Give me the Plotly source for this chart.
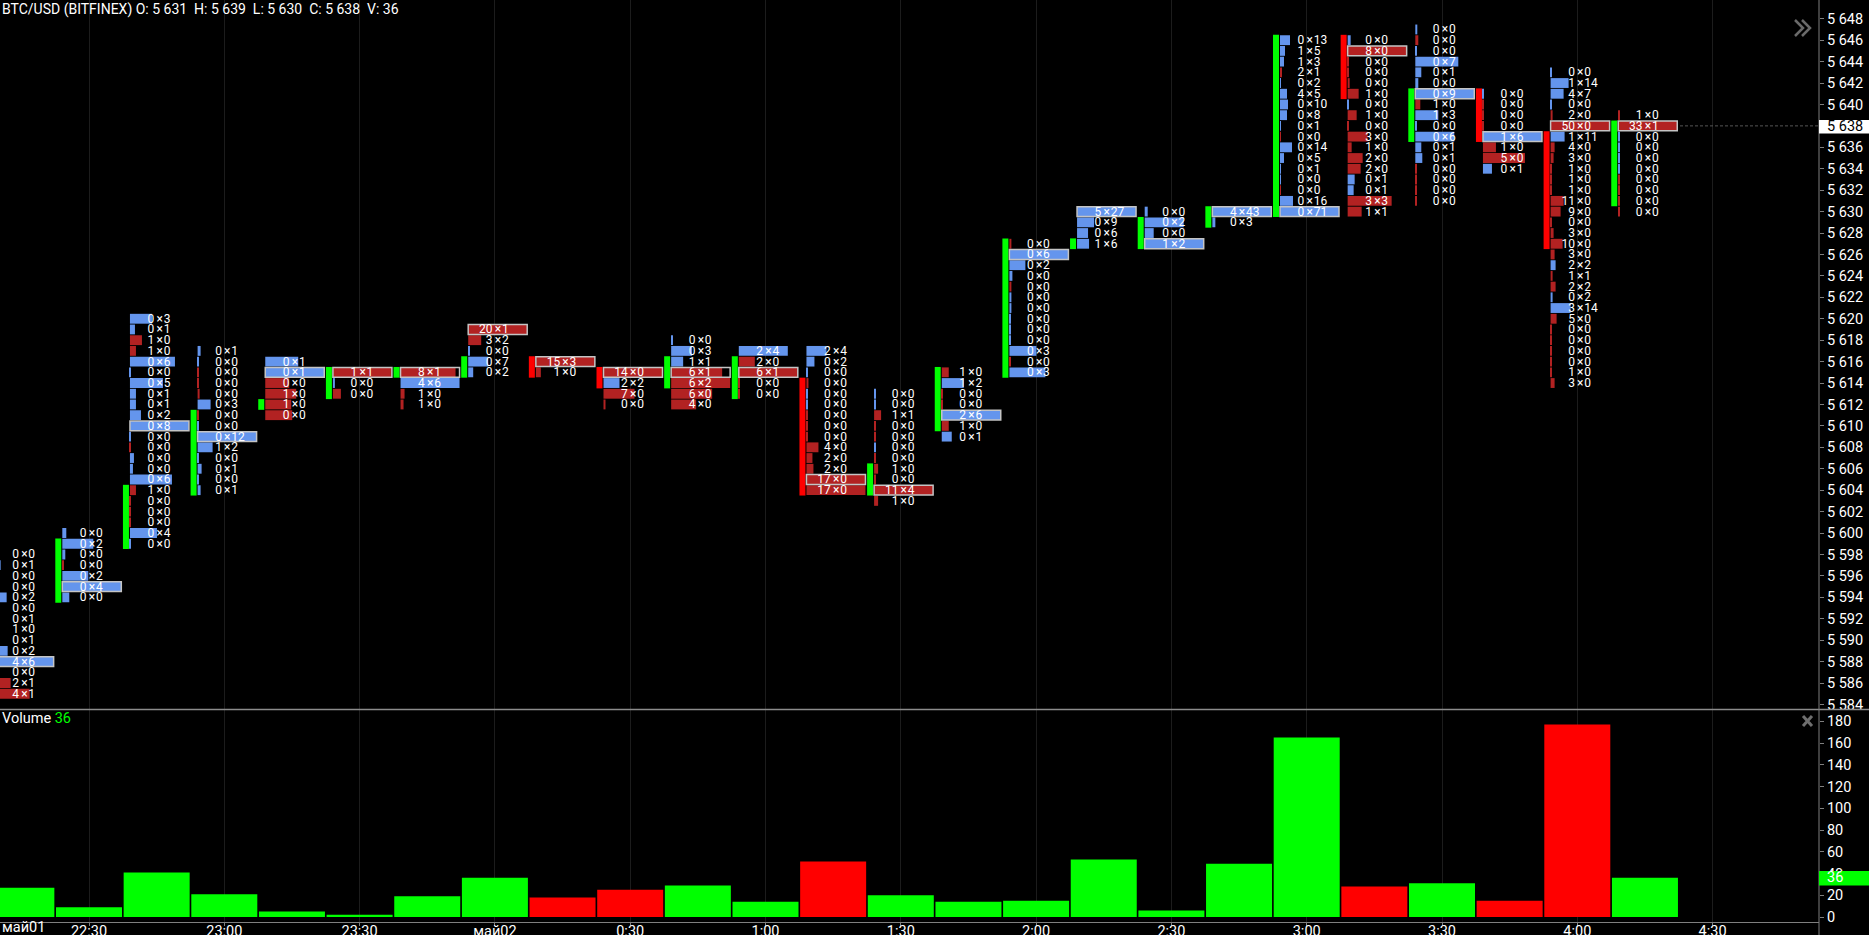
import plotly.graph_objects as go

# footprint bars, 15 min, top price of each column then rows going down
BAR_TIMES = ["22:15", "22:30", "22:45", "23:00", "23:15", "23:30", "23:45", "0:00", "0:15",
             "0:30", "0:45", "1:00", "1:15", "1:30", "1:45", "2:00", "2:15", "2:30", "2:45",
             "3:00", "3:15", "3:30", "3:45", "4:00", "4:15"]
OPENS = [5585, 5594, 5599, 5604, 5612, 5613, 5615, 5615, 5616, 5615, 5614, 5613, 5614, 5604,
         5610, 5615, 5627, 5627, 5629, 5630, 5646, 5637, 5641, 5637, 5631]
CLOSES = [5594, 5599, 5604, 5611, 5612, 5615, 5615, 5616, 5615, 5614, 5616, 5616, 5604, 5606,
          5615, 5627, 5627, 5629, 5630, 5646, 5641, 5641, 5637, 5627, 5638]
VOLUMES = [27, 9, 41, 21, 5, 2, 19, 36, 18, 25, 29, 14, 51, 20, 14, 15, 53, 6, 49, 165, 28, 31,
           15, 177, 36]
TOP_PRICES = [5598, 5600, 5620, 5617, 5616, 5615, 5615, 5619, 5616, 5615, 5618, 5617, 5617, 5613,
              5615, 5627, 5630, 5630, 5630, 5646, 5646, 5647, 5641, 5643, 5639]
POC_PRICES = [5588, 5595, 5610, 5609, 5615, 5615, 5615, 5619, 5616, 5615, 5615, 5615, 5605, 5604,
              5611, 5626, 5630, 5627, 5630, 5630, 5645, 5641, 5637, 5638, 5638]
BIDS = [
    [0, 0, 0, 0, 0, 0, 0, 1, 0, 0, 4, 0, 2, 4],
    [0, 0, 0, 0, 0, 0, 0],
    [0, 0, 1, 1, 0, 0, 0, 0, 0, 0, 0, 0, 0, 0, 0, 0, 1, 0, 0, 0, 0, 0],
    [0, 0, 0, 0, 0, 0, 0, 0, 0, 1, 0, 0, 0, 0],
    [0, 0, 0, 1, 1, 0],
    [1, 0, 0],
    [8, 4, 1, 1],
    [20, 3, 0, 0, 0],
    [15, 1],
    [14, 2, 7, 0],
    [0, 0, 1, 6, 6, 6, 4],
    [2, 2, 6, 0, 0],
    [2, 0, 0, 0, 0, 0, 0, 0, 0, 4, 2, 2, 17, 17],
    [0, 0, 1, 0, 0, 0, 0, 1, 0, 11, 1],
    [1, 1, 0, 0, 2, 1, 0],
    [0, 0, 0, 0, 0, 0, 0, 0, 0, 0, 0, 0, 0],
    [5, 0, 0, 1],
    [0, 0, 0, 1],
    [4, 0],
    [0, 1, 1, 2, 0, 4, 0, 0, 0, 0, 0, 0, 0, 0, 0, 0, 0],
    [0, 8, 0, 0, 0, 1, 0, 1, 0, 3, 1, 2, 2, 0, 0, 3, 1],
    [0, 0, 0, 0, 0, 0, 0, 1, 1, 0, 0, 0, 0, 0, 0, 0, 0],
    [0, 0, 0, 0, 1, 1, 5, 0],
    [0, 1, 4, 0, 2, 50, 1, 4, 3, 1, 1, 1, 11, 9, 0, 3, 10, 3, 2, 1, 2, 0, 3, 5, 0, 0, 0, 0, 1, 3],
    [1, 33, 0, 0, 0, 0, 0, 0, 0, 0],
]
ASKS = [
    [0, 1, 0, 0, 2, 0, 1, 0, 1, 2, 6, 0, 1, 1],
    [0, 2, 0, 0, 2, 4, 0],
    [3, 1, 0, 0, 6, 0, 5, 1, 1, 2, 8, 0, 0, 0, 0, 6, 0, 0, 0, 0, 4, 0],
    [1, 0, 0, 0, 0, 3, 0, 0, 12, 2, 0, 1, 0, 1],
    [1, 1, 0, 0, 0, 0],
    [1, 0, 0],
    [1, 6, 0, 0],
    [1, 2, 0, 7, 2],
    [3, 0],
    [0, 2, 0, 0],
    [0, 3, 1, 1, 2, 0, 0],
    [4, 0, 1, 0, 0],
    [4, 2, 0, 0, 0, 0, 0, 0, 0, 0, 0, 0, 0, 0],
    [0, 0, 1, 0, 0, 0, 0, 0, 0, 4, 0],
    [0, 2, 0, 0, 6, 0, 1],
    [0, 6, 2, 0, 0, 0, 0, 0, 0, 0, 3, 0, 3],
    [27, 9, 6, 6],
    [0, 2, 0, 2],
    [43, 3],
    [13, 5, 3, 1, 2, 5, 10, 8, 1, 0, 14, 5, 1, 0, 0, 16, 71],
    [0, 0, 0, 0, 0, 0, 0, 0, 0, 0, 0, 0, 0, 1, 1, 3, 1],
    [0, 0, 0, 7, 1, 0, 9, 0, 3, 0, 6, 1, 1, 0, 0, 0, 0],
    [0, 0, 0, 0, 6, 0, 0, 1],
    [0, 14, 7, 0, 0, 0, 11, 0, 0, 0, 0, 0, 0, 0, 0, 0, 0, 0, 2, 1, 2, 2, 14, 0, 0, 0, 0, 0, 0, 0],
    [0, 1, 0, 0, 0, 0, 0, 0, 0, 0],
]
# signed level strength, plus is ask side (blue), minus is bid side (red), 59 is a full column
LEVELS = [
    [2, 6, 2, 2, 12, 2, 3, -3, 3, 13, 59, 1, -16, -35],
    [4, 31, 3, -1, 26, 59, 7],
    [22, 5, -12, -6, 45, 1, 33, 6, 6, 11, 59, 1, -1, 4, 3, 42, -6, -1, -1, -1, 27, 1],
    [3, 1, -1, -1, -2, 13, -1, 1, 59, 15, 1, 4, 1, 3],
    [33, 59, -24, -31, -26, -27],
    [-59, 2, -8],
    [-55, 59, -4, -3],
    [-59, -13, 1, 20, 5],
    [-59, -5],
    [-59, 16, -31, -2],
    [1, 21, 12, -51, -59, -41, -25],
    [49, -16, -59, -1, -1],
    [20, 8, 1, -2, 1, 1, -1, -1, -1, -12, -6, -7, -59, -59],
    [1, 1, -7, -1, -1, 1, -1, -4, -1, -59, -4],
    [-7, 22, -1, -1, 59, -7, 10],
    [-2, 59, 16, 3, -2, 2, 2, 1, 1, 1, 27, -1, 36],
    [59, 17, 11, 12],
    [3, 39, 9, 59],
    [59, 3],
    [10, 5, 4, -2, 1, 7, 8, 7, 1, -1, 12, 4, 1, 1, -1, 13, 59],
    [3, -59, -1, -1, -2, -11, 1, -9, -1, -20, -4, -15, -13, 7, 6, -44, -14],
    [2, -3, 1, 43, 6, 3, 59, -5, 23, 1, 39, 6, 7, -1, -1, -1, -1],
    [1, -1, -1, -1, 59, -13, -42, 9],
    [1, 18, 13, 1, -2, -59, 14, -4, -3, -1, -1, -1, -13, -10, -1, -3, -12, -4, 5, -2, -5, 2, 20, -6,
     -1, -1, -1, -1, -1, -4],
    [-1, -59, 1, 1, 1, 1, -1, -1, -1, -1],
]

PRICE_TICKS = list(range(5584, 5650, 2))
VOLUME_TICKS = list(range(0, 200, 20))
TIME_TICKS = ["22:30", "23:00", "23:30", "0:00", "0:30", "1:00", "1:30", "2:00", "2:30",
              "3:00", "3:30", "4:00", "4:30"]
TIME_LABELS = ["22:30", "23:00", "23:30", "май02", "0:30", "1:00", "1:30", "2:00", "2:30",
               "3:00", "3:30", "4:00", "4:30"]
LAST_PRICE = 5638
LAST_VOLUME = 36

GREEN = "#00ff00"
RED = "#ff0000"
HIST_BLUE = "#6495ed"
HIST_RED = "#b22222"
GRID = "#1c1c1c"
AXIS = "#7f7f7f"
TXT = "#ffffff"
FONT = "Roboto"

PX_PER_MIN = 4.51
PX_PER_PRICE = 10.714
PLOT_W = 1819
PLOT_H = 922


def to_min(label):
    # minutes since 22:00 on the first day
    h, m = label.split(":")
    h = int(h)
    if h < 12:
        h += 24
    return (h - 22) * 60 + int(m)


def px(n):
    return n / PX_PER_MIN


def pp(x, y):
    # screen pixels to paper coordinates for the small icons
    return f"{x / PLOT_W} {(PLOT_H - y) / PLOT_H}"


bar_x = [to_min(t) for t in BAR_TIMES]

hist_x, hist_y, hist_base, hist_color = [], [], [], []
poc_y, poc_base = [], []
num_y, left_x, left_txt, mid_x, right_x, right_txt = [], [], [], [], [], []

for i, t in enumerate(bar_x):
    start = t - px(26.7)
    poc_y.append(POC_PRICES[i])
    poc_base.append(start)
    for j, lvl in enumerate(LEVELS[i]):
        price = TOP_PRICES[i] - j
        hist_x.append(px(abs(lvl)))
        hist_y.append(price)
        hist_base.append(start)
        hist_color.append(HIST_BLUE if lvl > 0 else HIST_RED)
        # cell text sits about a pixel under the row centre
        num_y.append(price - 1 / PX_PER_PRICE)
        left_x.append(t - px(2.4))
        left_txt.append(str(BIDS[i][j]))
        mid_x.append(t + px(3))
        right_x.append(t + px(7))
        right_txt.append(str(ASKS[i][j]))

fig = go.Figure()

# candle body strip on the left of every column
fig.add_trace(go.Bar(
    x=[t - px(30.7) for t in bar_x],
    y=[abs(c - o) + 1 for o, c in zip(OPENS, CLOSES)],
    base=[min(o, c) - 0.5 for o, c in zip(OPENS, CLOSES)],
    width=px(6),
    marker=dict(color=[GREEN if c >= o else RED for o, c in zip(OPENS, CLOSES)], line_width=0),
    hoverinfo="skip",
))
fig.add_trace(go.Bar(
    orientation="h",
    x=hist_x,
    y=hist_y,
    base=hist_base,
    width=0.92,
    marker=dict(color=hist_color, line_width=0),
    hoverinfo="skip",
))
fig.add_trace(go.Bar(
    orientation="h",
    x=[px(59)] * len(poc_y),
    y=poc_y,
    base=poc_base,
    width=0.92,
    marker=dict(color="rgba(0,0,0,0)", line=dict(color="#c4c4c4", width=1.5)),
    hoverinfo="skip",
))

cell_font = dict(family=FONT, size=12, color=TXT)
fig.add_trace(go.Scatter(x=left_x, y=num_y, mode="text", text=left_txt,
                         textposition="middle left", textfont=cell_font, hoverinfo="skip"))
fig.add_trace(go.Scatter(x=mid_x, y=num_y, mode="text", text=["×"] * len(num_y),
                         textposition="middle center", textfont=cell_font, hoverinfo="skip"))
fig.add_trace(go.Scatter(x=right_x, y=num_y, mode="text", text=right_txt,
                         textposition="middle right", textfont=cell_font, hoverinfo="skip"))

# volume pane
fig.add_trace(go.Bar(
    x=bar_x,
    y=VOLUMES,
    width=px(66),
    marker=dict(color=[GREEN if c >= o else RED for o, c in zip(OPENS, CLOSES)], line_width=0),
    xaxis="x2",
    yaxis="y2",
    hoverinfo="skip",
))

x_range = [30 - px(89), 30 - px(89) + px(PLOT_W)]
tick_x = [to_min(t) for t in TIME_TICKS]
tick_font = dict(family=FONT, size=14.5, color=TXT)

fig.update_layout(
    width=1869,
    height=935,
    margin=dict(l=0, r=50, t=0, b=13),
    paper_bgcolor="#000000",
    plot_bgcolor="#000000",
    barmode="overlay",
    showlegend=False,
    hovermode=False,
    font=dict(family=FONT, size=14, color=TXT),
    xaxis=dict(domain=[0, 1], range=x_range, anchor="y", tickvals=tick_x, showticklabels=False,
               showgrid=True, gridcolor=GRID, gridwidth=1, zeroline=False, ticks="", automargin=False),
    yaxis=dict(domain=[(PLOT_H - 709.5) / PLOT_H, 1], range=[5583.53, 5649.75], side="right", anchor="x",
               tickvals=PRICE_TICKS, ticktext=[f"{p // 1000} {p % 1000:03d}" for p in PRICE_TICKS],
               tickfont=tick_font, ticks="outside", ticklen=4, tickcolor=AXIS, showgrid=False,
               zeroline=False, automargin=False),
    xaxis2=dict(domain=[0, 1], range=x_range, anchor="y2", tickvals=tick_x, ticktext=TIME_LABELS,
                tickfont=tick_font, ticks="outside", ticklen=3, tickcolor=AXIS, showline=True,
                linecolor=AXIS, linewidth=1, showgrid=True, gridcolor=GRID, gridwidth=1,
                zeroline=False, tickangle=0, automargin=False, ticklabelstandoff=-7),
    yaxis2=dict(domain=[0, (PLOT_H - 710) / PLOT_H], range=[-4.6, 190.4], side="right", anchor="x2",
                tickvals=VOLUME_TICKS, tickfont=tick_font, ticks="outside", ticklen=4,
                tickcolor=AXIS, showgrid=False, zeroline=False, automargin=False),
)

# separator, price scale line, last price and last volume tags
tag_w = 50 / PLOT_W
line_grey = dict(color=AXIS, width=1)
sep_y = 212.5 / PLOT_H
fig.add_shape(type="line", xref="paper", yref="paper", x0=0, x1=1 + tag_w, y0=sep_y, y1=sep_y,
              line=dict(color="#8c8c8c", width=1.5))
fig.add_shape(type="line", xref="paper", yref="paper", x0=1, x1=1, y0=-13 / PLOT_H, y1=1, line=line_grey)
fig.add_shape(type="line", xref="paper", yref="y", x0=1680 / PLOT_W, x1=1, y0=LAST_PRICE, y1=LAST_PRICE,
              line=dict(color="#555555", width=1, dash="3px,2px"))
fig.add_shape(type="rect", xref="paper", yref="y", x0=1, x1=1 + tag_w, y0=LAST_PRICE - 0.72, y1=LAST_PRICE + 0.55,
              fillcolor="#ffffff", line_width=0)
fig.add_shape(type="rect", xref="paper", yref="y2", x0=1, x1=1 + tag_w, y0=LAST_VOLUME - 7, y1=LAST_VOLUME + 6.3,
              fillcolor=GREEN, line_width=0)

# chevrons top right and the close cross of the volume pane
icon_grey = dict(color="#6a6a6a", width=2.5)
for dx in (0, 7):
    fig.add_shape(type="path", xref="paper", yref="paper", line=icon_grey,
                  path=f"M {pp(1795 + dx, 20)} L {pp(1803 + dx, 28)} L {pp(1795 + dx, 36)}")
fig.add_shape(type="path", xref="paper", yref="paper", line=dict(color="#6e6e6e", width=3),
              path=f"M {pp(1803, 716)} L {pp(1812, 726)} M {pp(1812, 716)} L {pp(1803, 726)}")

fig.add_annotation(xref="paper", yref="y", x=1, y=LAST_PRICE, xanchor="left", yanchor="middle", xshift=6, yshift=-1,
                   text=f"{LAST_PRICE // 1000} {LAST_PRICE % 1000:03d}", showarrow=False,
                   font=dict(family=FONT, size=14.5, color="#000000"))
fig.add_annotation(xref="paper", yref="y2", x=1, y=LAST_VOLUME, xanchor="left", yanchor="middle", xshift=6,
                   text=str(LAST_VOLUME), showarrow=False, font=dict(family=FONT, size=14.5, color=TXT))

fig.add_annotation(xref="paper", yref="paper", x=0, y=1, xanchor="left", yanchor="top", yshift=1,
                   text="BTC/USD (BITFINEX) O: 5 631\u00a0 H: 5 639\u00a0 L: 5 630\u00a0 C: 5 638\u00a0 V: 36",
                   showarrow=False, font=dict(family=FONT, size=14, color=TXT))
fig.add_annotation(xref="paper", yref="paper", x=0, y=212 / PLOT_H, xanchor="left", yanchor="top", yshift=2,
                   text=f"Volume <span style='color:{GREEN}'>{LAST_VOLUME}</span>",
                   showarrow=False, font=dict(family=FONT, size=14.5, color=TXT))
fig.add_annotation(xref="paper", yref="paper", x=0, y=0, xanchor="left", yanchor="top", yshift=5,
                   text="май01", showarrow=False, font=tick_font)

fig.write_html("out.html", config={"displayModeBar": False},
               post_script="document.body.style.margin='0';")
